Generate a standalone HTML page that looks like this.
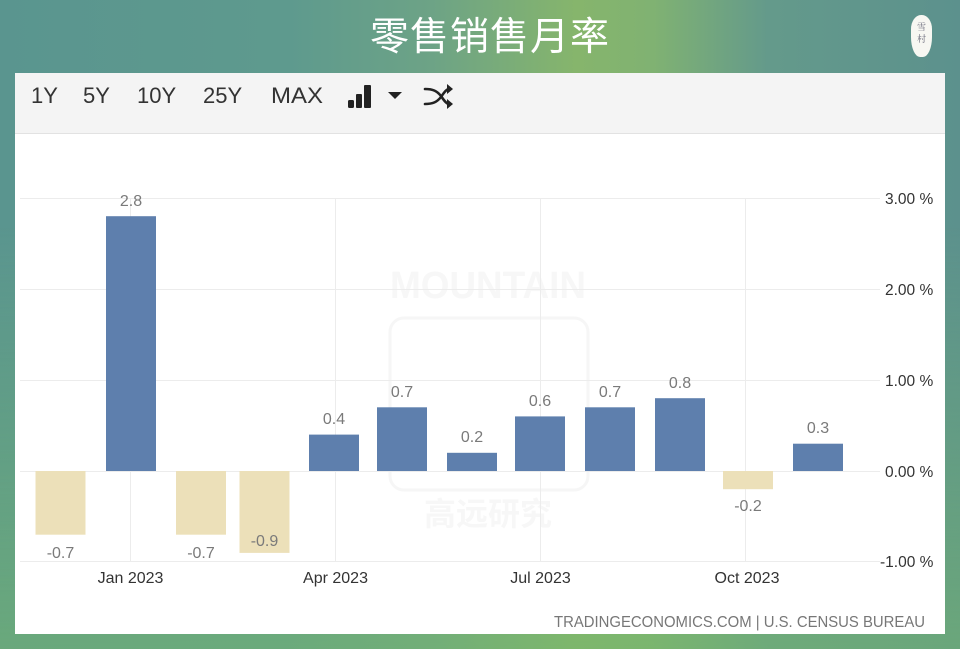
<!DOCTYPE html>
<html><head><meta charset="utf-8"><style>
html,body{margin:0;padding:0;width:960px;height:649px;overflow:hidden}
body{position:relative;font-family:"Liberation Sans","Noto Sans CJK SC",sans-serif;
background:
linear-gradient(180deg, rgba(0,0,0,0) 0%, rgba(0,0,0,0) 35%, rgba(118,184,108,0.55) 100%),
linear-gradient(90deg,#5a958f 0%,#5e9a8e 30%,#6da386 45%,#86b56c 60%,#80b272 68%,#649a8b 80%,#5c918d 100%);}
.title{position:absolute;left:0;width:980px;top:12px;text-align:center;color:#fff;font-size:39px;font-family:"Liberation Sans","Noto Sans CJK SC",sans-serif;letter-spacing:1px;line-height:52px}
.logo{position:absolute;left:911px;top:15px;width:21px;height:42px;background:#f7f7f2;border-radius:10px 10px 9px 9px/14px 14px 20px 20px;color:#667;font-size:9px;line-height:12px;text-align:center;padding-top:6px;box-sizing:border-box;font-family:"Noto Serif CJK SC",serif}
.card{position:absolute;left:15px;top:73px;width:930px;height:561px;background:#fff}
.tb{position:absolute;left:0;top:0;width:930px;height:60px;background:#f4f4f4;border-bottom:1px solid #e2e2e2}
svg{position:absolute;left:0;top:0}
</style></head><body>
<div class="title">零售销售月率</div>
<div class="logo">雪<br>村</div>
<div class="card"><div class="tb"></div></div>
<svg width="960" height="649" viewBox="0 0 960 649" xmlns="http://www.w3.org/2000/svg" font-family="Liberation Sans, sans-serif">
  <g fill="#333" font-size="22">
    <text x="31" y="103">1Y</text>
    <text x="83" y="103">5Y</text>
    <text x="137" y="103">10Y</text>
    <text x="203" y="103">25Y</text>
    <text x="271" y="103" textLength="52" lengthAdjust="spacingAndGlyphs">MAX</text>
  </g>
  <g fill="#222">
    <rect x="348" y="100" width="6" height="8" rx="1.5"/>
    <rect x="356" y="94" width="6" height="14" rx="1"/>
    <rect x="364" y="85" width="7" height="23" rx="1"/>
    <polygon points="388,92 402,92 395,99"/>
  </g>
  <g fill="none" stroke="#222" stroke-width="2.6" stroke-linecap="round">
    <path d="M425,89 C433,89 437,91 441,96 C445,102 447,104 449,104"/>
    <path d="M425,104 C433,104 437,102 441,97 C445,91 447,89 449,89"/>
  </g>
  <g fill="#222">
    <polygon points="447,84 453,89 447,94"/>
    <polygon points="447,99 453,104 447,109"/>
  </g>

  <g>
    <text x="488" y="298" text-anchor="middle" font-size="38" font-weight="bold" fill="#f7f7f7" textLength="196" lengthAdjust="spacingAndGlyphs">MOUNTAIN</text>
    <rect x="390" y="318" width="198" height="172" rx="14" fill="none" stroke="#f6f6f6" stroke-width="3"/>
    <text x="488" y="525" text-anchor="middle" font-size="32" font-weight="bold" fill="#f7f7f7" font-family="Noto Sans CJK SC, sans-serif">高远研究</text>
  </g>

  <g stroke="#ececec" stroke-width="1">
    <line x1="20" y1="198.5" x2="880" y2="198.5"/>
    <line x1="20" y1="289.5" x2="880" y2="289.5"/>
    <line x1="20" y1="380.5" x2="880" y2="380.5"/>
    <line x1="20" y1="471.5" x2="880" y2="471.5"/>
    <line x1="20" y1="561.5" x2="880" y2="561.5"/>
    <line x1="130.5" y1="198" x2="130.5" y2="562"/>
    <line x1="335.5" y1="198" x2="335.5" y2="562"/>
    <line x1="540.5" y1="198" x2="540.5" y2="562"/>
    <line x1="745.5" y1="198" x2="745.5" y2="562"/>
  </g>

  <g fill="#ece0b9">
    <rect x="35.5" y="471" width="50" height="63.7"/>
    <rect x="176" y="471" width="50" height="63.7"/>
    <rect x="239.5" y="471" width="50" height="81.9"/>
    <rect x="723" y="471" width="50" height="18.2"/>
  </g>
  <g fill="#5e7fad">
    <rect x="106" y="216.2" width="50" height="254.8"/>
    <rect x="309" y="434.6" width="50" height="36.4"/>
    <rect x="377" y="407.3" width="50" height="63.7"/>
    <rect x="447" y="452.8" width="50" height="18.2"/>
    <rect x="515" y="416.4" width="50" height="54.6"/>
    <rect x="585" y="407.3" width="50" height="63.7"/>
    <rect x="655" y="398.2" width="50" height="72.8"/>
    <rect x="793" y="443.7" width="50" height="27.3"/>
  </g>

  <g fill="#7a7a7a" font-size="16" text-anchor="middle">
    <text x="60.5" y="558">-0.7</text>
    <text x="131" y="206">2.8</text>
    <text x="201" y="558">-0.7</text>
    <text x="264.5" y="546">-0.9</text>
    <text x="334" y="424">0.4</text>
    <text x="402" y="397">0.7</text>
    <text x="472" y="442">0.2</text>
    <text x="540" y="406">0.6</text>
    <text x="610" y="397">0.7</text>
    <text x="680" y="388">0.8</text>
    <text x="748" y="511">-0.2</text>
    <text x="818" y="433">0.3</text>
  </g>

  <g fill="#333" font-size="15.5">
    <text x="885" y="204">3.00 %</text>
    <text x="885" y="295">2.00 %</text>
    <text x="885" y="386">1.00 %</text>
    <text x="885" y="477">0.00 %</text>
    <text x="880" y="567">-1.00 %</text>
  </g>

  <g fill="#333" font-size="16" text-anchor="middle">
    <text x="130.5" y="583">Jan 2023</text>
    <text x="335.5" y="583">Apr 2023</text>
    <text x="540.5" y="583">Jul 2023</text>
    <text x="747" y="583">Oct 2023</text>
  </g>

  <text x="925" y="627" text-anchor="end" fill="#777" font-size="16" textLength="371" lengthAdjust="spacingAndGlyphs">TRADINGECONOMICS.COM | U.S. CENSUS BUREAU</text>
</svg>
</body></html>
